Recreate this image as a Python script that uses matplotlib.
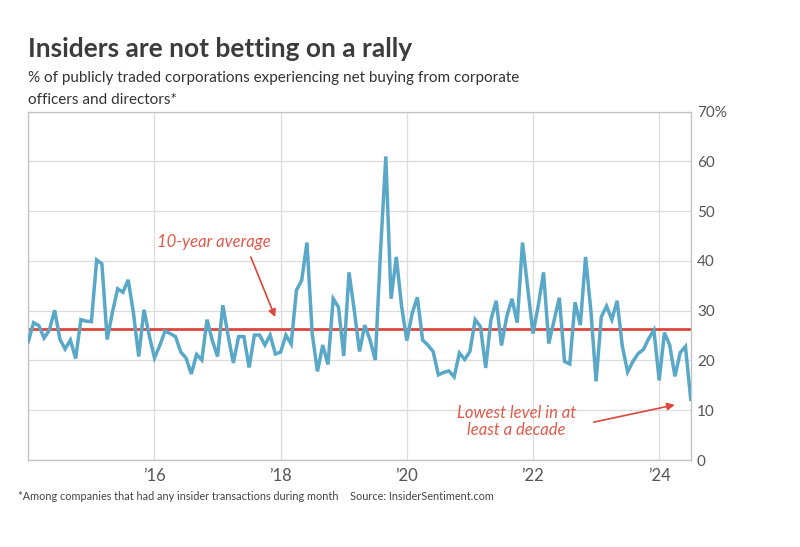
import numpy as np
import matplotlib.pyplot as plt

# % of companies with net insider buying, monthly, Jan 2014 - Jul 2024
pct_2014 = [23.8, 27.6, 27.0, 24.5, 26.1, 30.1, 24.3, 22.3, 24.1, 20.4, 28.2, 27.9]
pct_2015 = [27.8, 40.2, 39.4, 24.2, 29.7, 34.4, 33.7, 36.2, 29.5, 20.8, 30.2, 25.0]
pct_2016 = [20.5, 23.0, 25.9, 25.4, 24.8, 21.7, 20.5, 17.3, 21.2, 20.1, 28.2, 24.0]
pct_2017 = [20.8, 31.1, 25.0, 19.5, 24.8, 24.8, 18.6, 25.1, 25.1, 23.1, 25.1, 21.3]
pct_2018 = [21.7, 25.1, 23.3, 34.1, 36.1, 43.7, 25.4, 17.8, 23.1, 19.2, 32.4, 30.7]
pct_2019 = [20.9, 37.7, 30.1, 21.8, 27.1, 24.1, 20.1, 42.0, 61.0, 32.4, 40.8, 30.9]
pct_2020 = [24.0, 29.4, 32.7, 24.1, 23.1, 21.8, 17.1, 17.6, 17.9, 16.7, 21.5, 20.2]
pct_2021 = [21.8, 28.2, 26.8, 18.5, 28.2, 32.0, 23.0, 28.8, 32.4, 27.6, 43.7, 34.5]
pct_2022 = [25.4, 31.0, 37.7, 23.4, 28.0, 32.6, 19.8, 19.3, 31.7, 27.1, 40.8, 30.1]
pct_2023 = [15.8, 28.8, 30.9, 28.2, 32.0, 22.8, 17.7, 19.8, 21.4, 22.2, 24.4, 26.1]
pct_2024 = [16.0, 25.6, 23.1, 16.8, 21.6, 22.8, 12.2]

pct = (pct_2014 + pct_2015 + pct_2016 + pct_2017 + pct_2018 + pct_2019
       + pct_2020 + pct_2021 + pct_2022 + pct_2023 + pct_2024)
years = 2014 + np.arange(len(pct)) / 12

avg_10yr = 26.4

xtick_years = [2016, 2018, 2020, 2022, 2024]
xtick_labels = ['\u201916', '\u201918', '\u201920', '\u201922', '\u201924']
ytick_vals = [0, 10, 20, 30, 40, 50, 60, 70]
ytick_labels = ['0', '10', '20', '30', '40', '50', '60', '70%']

blue = '#5aa8c8'
red = '#d9483b'
note_red = '#e05a4b'

plt.rcParams['font.family'] = ['Lato', 'DejaVu Sans']

fig = plt.figure(figsize=(8, 5.47), dpi=100)
ax = fig.add_axes([0.0354, 0.159, 0.828, 0.637])

ax.plot(years, pct, color=blue, lw=2.5, solid_joinstyle='miter', zorder=3)
ax.axhline(avg_10yr, color=red, lw=2.0, zorder=2)

ax.set_xlim(years[0], years[-1])
ax.set_ylim(0, 70)
ax.set_xticks(xtick_years)
ax.set_xticklabels(xtick_labels)
ax.set_yticks(ytick_vals)
ax.set_yticklabels(ytick_labels)
ax.yaxis.tick_right()
ax.tick_params(axis='y', length=0, pad=4.5, labelsize=11, labelcolor='#555555')
ax.tick_params(axis='x', length=0, pad=6, labelsize=12, labelcolor='#555555')
ax.grid(True, color='#dcdcdc', lw=0.9, zorder=0)
for s in ax.spines.values():
    s.set_color('#c4c4c4')
    s.set_linewidth(1.0)

# annotations
ax.text(2016.04, 43.9, '10-year average', color=note_red, fontsize=12,
        style='italic', va='center', ha='left')
ax.annotate('', xy=(2017.93, 28.2), xytext=(2017.51, 41.3),
            arrowprops=dict(arrowstyle='-|>', color=red, lw=1.2, mutation_scale=11))
ax.text(2021.74, 7.8, 'Lowest level in at\nleast a decade', color=note_red, fontsize=12,
        style='italic', va='center', ha='center', linespacing=1.05)
ax.annotate('', xy=(2024.29, 11.2), xytext=(2022.92, 7.5),
            arrowprops=dict(arrowstyle='-|>', color=red, lw=1.2, mutation_scale=11))

# header and footer
W, H = 800, 547
fig.text(28 / W, 1 - 57 / H, 'Insiders are not betting on a rally', fontsize=19,
         fontweight='bold', color='#3c3c3c', va='baseline')
fig.text(28 / W, 1 - 82 / H,
         '% of publicly traded corporations experiencing net buying from corporate',
         fontsize=11, color='#333333', va='baseline')
fig.text(28 / W, 1 - 104 / H, 'officers and directors*', fontsize=11,
         color='#333333', va='baseline')
fig.text(18 / W, 1 - 500 / H,
         '*Among companies that had any insider transactions during month',
         fontsize=7.8, color='#444444', va='baseline')
fig.text(350 / W, 1 - 500 / H, 'Source: InsiderSentiment.com', fontsize=7.8,
         color='#444444', va='baseline', ha='left')

fig.savefig('out.png', dpi=100, facecolor='white')
